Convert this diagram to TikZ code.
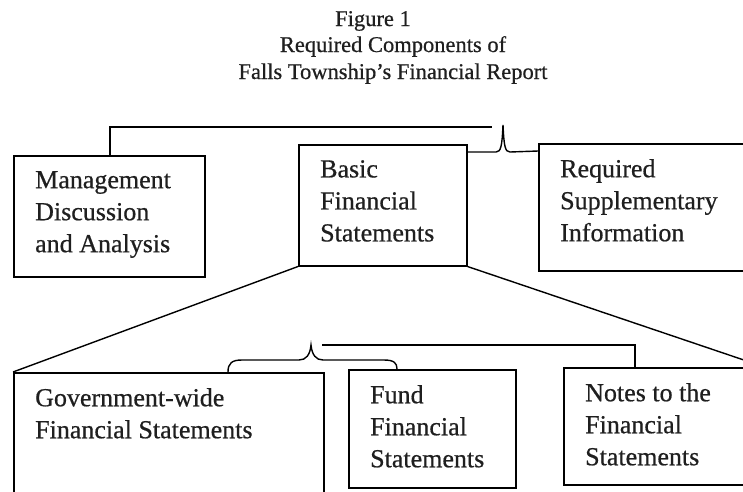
\documentclass[tikz,border=0pt]{standalone}
\usepackage{fontspec}
\setmainfont{Liberation Serif}
\newfontfamily\scanfont[FakeBold=0.6]{Liberation Serif}
\usetikzlibrary{calc}
\begin{document}
\begin{tikzpicture}[x=1pt,y=-1pt,
  box/.style={draw, line width=1.5pt, rectangle, inner sep=0pt, anchor=north west},
  lbl/.style={anchor=north west, inner sep=0pt, align=left, text=black!88, font=\scanfont\fontsize{26}{32}\selectfont},
  ttl/.style={anchor=base, inner sep=0pt, text=black!88, font=\scanfont\fontsize{22.5}{27}\selectfont},
  conn/.style={line width=1.4pt}]
\useasboundingbox (0,0) rectangle (743,491);
\clip (0,0) rectangle (743,491);
% title
\node[ttl] (t1) at (373,26) {Figure 1};
\node[ttl] (t2) at (393,52) {Required Components of};
\node[ttl] (t3) at (393,79) {Falls Township’s Financial Report};
% top boxes
\node[box, minimum width=191pt, minimum height=121pt] (mda) at (13,155) {};
\node[box, minimum width=168pt, minimum height=121pt] (bfs) at (298,144) {};
\node[box, minimum width=222pt, minimum height=127pt] (rsi) at (538,143) {};
\node[lbl] (mdat) at ($(mda.north west)+(22,16)$) {Management\\Discussion\\and Analysis};
\node[lbl] (bfst) at ($(bfs.north west)+(22,16)$) {Basic\\Financial\\Statements};
\node[lbl] (rsit) at ($(rsi.north west)+(22,16)$) {Required\\Supplementary\\Information};
% bottom boxes
\node[box, minimum width=310pt, minimum height=120pt] (gov) at (13,372) {};
\node[box, minimum width=167pt, minimum height=118pt] (fund) at (348,369) {};
\node[box, minimum width=200pt, minimum height=117pt] (notes) at (563,367) {};
\node[lbl] (govt) at ($(gov.north west)+(22,16)$) {Government-wide\\Financial Statements};
\node[lbl] (fundt) at ($(fund.north west)+(22,16)$) {Fund\\Financial\\Statements};
\node[lbl] (notest) at ($(notes.north west)+(22,16)$) {Notes to the\\Financial\\Statements};
% upper bracket line and brace
\coordinate (ua) at (110,127);
\coordinate (ub) at (492,127);
\draw[conn] (mda.north -| ua) -- (ua) -- (ub);
\coordinate (utip) at (503,125);
\coordinate (ubl) at ($(bfs.north east)+(0,8)$);
\coordinate (ubr) at ($(rsi.north west)+(0,8)$);
\draw[conn] (ubl) -- (496,152) .. controls (501,152) and (502,146) .. (utip)
  .. controls (504,146) and (505,152) .. (510,152) -- (ubr);
% diagonals
\draw[conn] (bfs.south west) -- (gov.north west);
\draw[conn] (bfs.south east) -- (notes.north east);
% lower brace and line
\coordinate (ltip) at (311,345);
\coordinate (lbl) at ($(gov.north west)+(215,0)$);
\coordinate (lbr) at ($(fund.north west)+(49,0)$);
\draw[conn] (lbl) .. controls (228,363) and (232,360) .. (242,360) -- (299,360)
  .. controls (306,360) and (310,355) .. (ltip)
  .. controls (312,355) and (316,360) .. (323,360) -- (384,360)
  .. controls (394,360) and (397,363) .. (lbr);
\coordinate (la) at (322,345);
\coordinate (lb) at (635,345);
\draw[conn] (la) -- (lb) -- (notes.north -| lb);
\end{tikzpicture}
\end{document}
